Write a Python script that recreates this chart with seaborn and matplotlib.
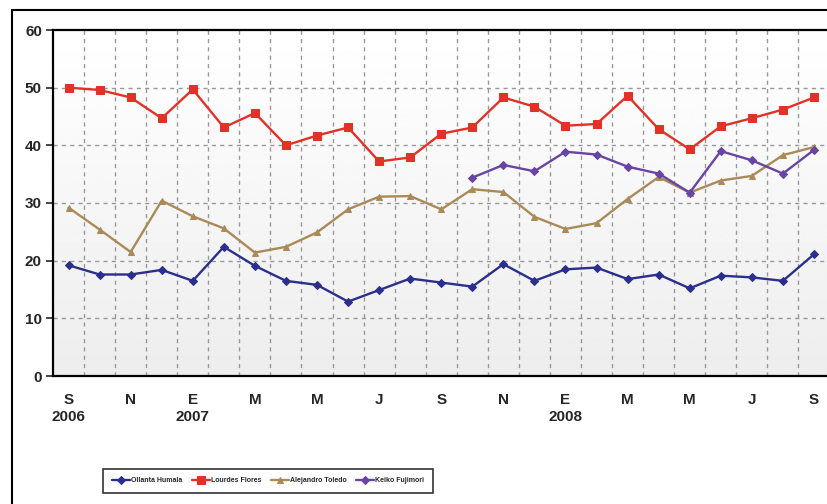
import matplotlib
matplotlib.use("Agg")
import matplotlib.pyplot as plt
import numpy as np
import pandas as pd
import seaborn as sns
from matplotlib.patches import Rectangle

# Meses: septiembre 2006 a septiembre 2008
meses = ["S", "O", "N", "D", "E", "F", "M", "A", "M", "J", "J", "A",
         "S", "O", "N", "D", "E", "F", "M", "A", "M", "J", "J", "A", "S"]
anios = {0: "2006", 4: "2007", 16: "2008"}

humala = [19.2, 17.6, 17.6, 18.4, 16.5, 22.4, 19.1, 16.5, 15.8, 12.9, 14.9, 16.9,
          16.2, 15.5, 19.4, 16.5, 18.5, 18.8, 16.8, 17.6, 15.2, 17.4, 17.1, 16.5, 21.1]
flores = [50.0, 49.6, 48.3, 44.7, 49.7, 43.1, 45.6, 40.0, 41.7, 43.1, 37.2, 37.9,
          42.0, 43.1, 48.3, 46.7, 43.4, 43.7, 48.6, 42.8, 39.3, 43.3, 44.7, 46.2, 48.3]
toledo = [29.2, 25.4, 21.5, 30.4, 27.7, 25.6, 21.4, 22.4, 24.9, 28.9, 31.1, 31.2,
          28.9, 32.4, 31.9, 27.6, 25.5, 26.5, 30.7, 34.5, 31.8, 33.9, 34.7, 38.3, 39.7]
fujimori = [np.nan] * 13 + [34.4, 36.6, 35.5, 38.9, 38.4, 36.3, 35.1, 31.8,
                            39.0, 37.4, 35.1, 39.2]

series = ["Ollanta Humala", "Lourdes Flores", "Alejandro Toledo", "Keiko Fujimori"]
valores = [humala, flores, toledo, fujimori]
colores = ["#2b2f8c", "#e33127", "#a98a58", "#6844a3"]
marcadores = ["D", "s", "^", "D"]
tam_marcador = [4, 5.5, 5, 4]

sns.set_style("white")
plt.rcParams['font.family'] = ['Liberation Sans', 'DejaVu Sans']

fig = plt.figure(figsize=(8.27, 5.04), dpi=100)
ax = fig.add_axes([53 / 827, 1 - 376 / 504, 776.5 / 827, 346 / 504])

# Fondo con degradado
grad = np.linspace(0.93, 1.0, 256).reshape(-1, 1)
ax.imshow(grad, extent=[0, 1, 0, 1], transform=ax.transAxes, aspect="auto",
          cmap="gray", vmin=0, vmax=1, origin="lower", zorder=0)

x = np.arange(len(meses))
for nombre, vals, col, mk, ms in zip(series, valores, colores, marcadores, tam_marcador):
    df = pd.DataFrame({"mes": x, "valor": vals}).dropna()
    sns.lineplot(data=df, x="mes", y="valor", ax=ax, color=col, marker=mk,
                 markersize=ms, markeredgecolor=col, linewidth=1.7, label=nombre,
                 zorder=3)

ax.set_xlim(-0.5, len(meses) - 0.5)
ax.set_ylim(0, 60)
ax.set_xlabel("")
ax.set_ylabel("")

ax.set_yticks(range(0, 61, 10))
ax.set_yticklabels([str(v) for v in range(0, 61, 10)], fontsize=11, fontweight="bold")
ticks_x = list(range(0, len(meses), 2))
ax.set_xticks(ticks_x)
ax.set_xticklabels([meses[i] + ("\n" + anios[i] if i in anios else "\n") for i in ticks_x],
                   fontsize=11, fontweight="bold", linespacing=1.3)
ax.set_xticks(np.arange(0.5, len(meses) - 1, 1), minor=True)

ax.tick_params(axis="y", direction="out", length=5, width=1.2, left=True, pad=3)
ax.tick_params(axis="x", which="major", length=0, pad=12)
ax.tick_params(axis="x", which="minor", direction="in", length=3, color="#888888")

for v in range(10, 60, 10):
    ax.axhline(v, color="#999999", lw=1, ls=(0, (3, 3)), zorder=1)
for m in np.arange(0.5, len(meses) - 1, 1):
    ax.axvline(m, color="#999999", lw=1, ls=(0, (3, 3)), zorder=1)

for lado in ["top", "left", "bottom"]:
    ax.spines[lado].set_color("black")
    ax.spines[lado].set_linewidth(1.6)
ax.spines["right"].set_visible(False)

ax.get_legend().remove()
h, l = ax.get_legend_handles_labels()
leg = fig.legend(h, l, loc="center", bbox_to_anchor=(268 / 827, 1 - 481 / 504),
                 ncol=4, frameon=True, fancybox=False, handlelength=2.6,
                 columnspacing=1.3, handletextpad=0.2, borderpad=1.2,
                 prop={"size": 5, "weight": "bold"})
leg.get_frame().set_edgecolor("black")
leg.get_frame().set_linewidth(1.2)

# Marco exterior
fig.patches.append(Rectangle((12 / 827, -0.1), 1.0, 1 - 10 / 504 + 0.1,
                             transform=fig.transFigure, fill=False,
                             edgecolor="black", linewidth=1.5))

fig.savefig("out.png", dpi=100)
